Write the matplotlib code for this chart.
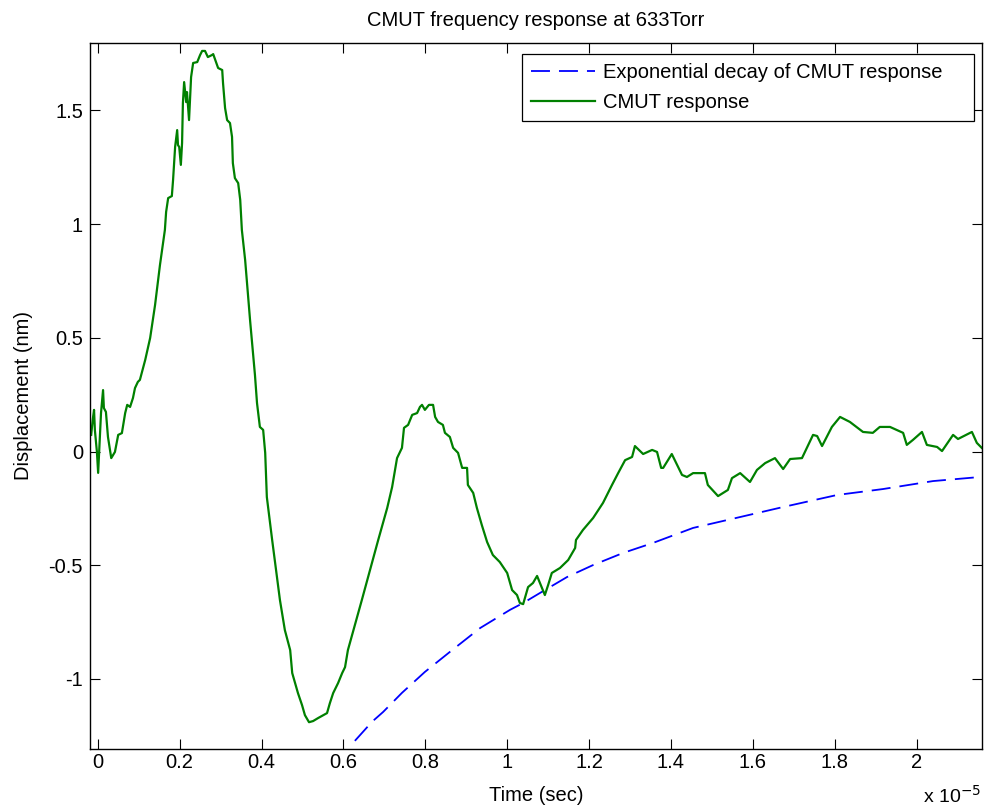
"""CMUT displacement response at 633 Torr with its exponential decay envelope."""

import matplotlib
matplotlib.use("Agg")
import matplotlib.pyplot as plt

# time axis is in units of 1e-5 s
resp_t = [
    -0.016, -0.012, -0.009, -0.007, -0.002, 0.001, 0.008, 0.013, 0.015, 0.020,
    0.025, 0.033, 0.042, 0.050, 0.059, 0.067, 0.072, 0.079, 0.086, 0.091,
    0.098, 0.103, 0.116, 0.128, 0.140, 0.152, 0.164, 0.167, 0.172, 0.181,
    0.184, 0.189, 0.194, 0.196, 0.199, 0.203, 0.206, 0.208, 0.211, 0.216,
    0.218, 0.223, 0.225, 0.228, 0.233, 0.243, 0.250, 0.255, 0.262, 0.269,
    0.279, 0.282, 0.287, 0.294, 0.304, 0.306, 0.311, 0.316, 0.323, 0.328,
    0.330, 0.335, 0.343, 0.348, 0.352, 0.360, 0.372, 0.384, 0.389, 0.396,
    0.404, 0.409, 0.413, 0.426, 0.445, 0.457, 0.470, 0.475, 0.482, 0.489,
    0.499, 0.506, 0.516, 0.526, 0.538, 0.560, 0.567, 0.575, 0.587, 0.597,
    0.604, 0.611, 0.628, 0.645, 0.665, 0.685, 0.707, 0.719, 0.726, 0.731,
    0.743, 0.748, 0.758, 0.768, 0.780, 0.787, 0.792, 0.799, 0.809, 0.819,
    0.824, 0.831, 0.843, 0.848, 0.860, 0.868, 0.880, 0.890, 0.902, 0.904,
    0.917, 0.926, 0.938, 0.951, 0.965, 0.982, 1.000, 1.012, 1.024, 1.031,
    1.039, 1.051, 1.063, 1.073, 1.080, 1.092, 1.100, 1.109, 1.129, 1.149,
    1.166, 1.168, 1.185, 1.210, 1.234, 1.256, 1.271, 1.288, 1.305, 1.312,
    1.332, 1.354, 1.366, 1.376, 1.381, 1.402, 1.427, 1.439, 1.454, 1.483,
    1.490, 1.515, 1.539, 1.549, 1.569, 1.593, 1.610, 1.630, 1.654, 1.674,
    1.691, 1.720, 1.747, 1.757, 1.769, 1.793, 1.813, 1.837, 1.869, 1.893,
    1.910, 1.935, 1.967, 1.976, 1.991, 2.013, 2.025, 2.050, 2.062, 2.089,
    2.101, 2.135, 2.147, 2.159,
]
resp_nm = [
    0.073, 0.143, 0.183, 0.095, -0.002, -0.094, 0.169, 0.270, 0.191, 0.174,
    0.064, -0.029, -0.002, 0.073, 0.081, 0.169, 0.205, 0.196, 0.235, 0.279,
    0.306, 0.315, 0.403, 0.499, 0.644, 0.820, 0.974, 1.053, 1.114, 1.123,
    1.194, 1.339, 1.413, 1.347, 1.339, 1.260, 1.357, 1.532, 1.624, 1.536,
    1.580, 1.457, 1.532, 1.646, 1.708, 1.712, 1.743, 1.761, 1.761, 1.734,
    1.743, 1.747, 1.721, 1.686, 1.677, 1.620, 1.510, 1.457, 1.444, 1.383,
    1.268, 1.202, 1.180, 1.106, 0.974, 0.842, 0.578, 0.336, 0.213, 0.108,
    0.095, -0.006, -0.200, -0.389, -0.653, -0.785, -0.873, -0.974, -1.018, -1.062,
    -1.115, -1.159, -1.190, -1.185, -1.172, -1.150, -1.106, -1.062, -1.018, -0.974,
    -0.948, -0.873, -0.763, -0.653, -0.521, -0.389, -0.248, -0.156, -0.081, -0.029,
    0.016, 0.104, 0.117, 0.161, 0.169, 0.196, 0.205, 0.183, 0.205, 0.205,
    0.152, 0.130, 0.117, 0.082, 0.064, 0.016, -0.006, -0.072, -0.072, -0.147,
    -0.182, -0.248, -0.323, -0.398, -0.455, -0.486, -0.534, -0.609, -0.631, -0.666,
    -0.671, -0.596, -0.578, -0.547, -0.578, -0.631, -0.587, -0.534, -0.512, -0.477,
    -0.424, -0.389, -0.345, -0.292, -0.226, -0.147, -0.095, -0.038, -0.024, 0.024,
    -0.011, 0.007, -0.002, -0.072, -0.072, -0.011, -0.103, -0.112, -0.095, -0.095,
    -0.147, -0.196, -0.169, -0.117, -0.095, -0.134, -0.081, -0.051, -0.029, -0.077,
    -0.033, -0.029, 0.073, 0.068, 0.024, 0.108, 0.152, 0.130, 0.086, 0.082,
    0.108, 0.108, 0.082, 0.029, 0.051, 0.086, 0.029, 0.020, 0.002, 0.073,
    0.055, 0.086, 0.038, 0.016,
]

decay_t = [0.628, 0.670, 0.697, 0.743, 0.799, 0.860, 0.934, 1.007, 1.039, 1.080,
           1.146, 1.210, 1.283, 1.356, 1.454, 1.569, 1.674, 1.806, 1.918, 2.040,
           2.155]
decay_nm = [-1.272, -1.188, -1.145, -1.061, -0.969, -0.881, -0.776, -0.696, -0.666,
            -0.622, -0.552, -0.499, -0.446, -0.402, -0.336, -0.288, -0.244, -0.191,
            -0.165, -0.130, -0.112]

x_ticks = [0, 0.2, 0.4, 0.6, 0.8, 1.0, 1.2, 1.4, 1.6, 1.8, 2.0]
x_tick_labels = ["0", "0.2", "0.4", "0.6", "0.8", "1", "1.2", "1.4", "1.6", "1.8", "2"]
y_ticks = [-1, -0.5, 0, 0.5, 1, 1.5]
y_tick_labels = ["-1", "-0.5", "0", "0.5", "1", "1.5"]

FS = 14.5

plt.rcParams["font.family"] = ["Liberation Sans", "DejaVu Sans"]
plt.rcParams["font.size"] = FS

fig = plt.figure(figsize=(9.84, 8.11), dpi=100)
ax = fig.add_axes([0.0915, 0.0764, 0.9062, 0.8709])

ax.plot(decay_t, decay_nm, color="#0000ff", linewidth=1.3, dashes=(10.5, 5),
        label="Exponential decay of CMUT response")
ax.plot(resp_t, resp_nm, color="#008000", linewidth=1.6, label="CMUT response")

ax.set_xlim(-0.0188, 2.159)
ax.set_ylim(-1.308, 1.797)
ax.set_xticks(x_ticks)
ax.set_xticklabels(x_tick_labels)
ax.set_yticks(y_ticks)
ax.set_yticklabels(y_tick_labels)
ax.tick_params(direction="in", length=7, width=0.8, top=True, right=True, labelsize=FS)
ax.tick_params(axis="x", pad=3)
ax.tick_params(axis="y", pad=5)
for spine in ax.spines.values():
    spine.set_linewidth(1.0)

ax.set_title("CMUT frequency response at 633Torr", fontsize=FS, pad=12)
ax.set_xlabel("Time (sec)", fontsize=FS, labelpad=10)
ax.set_ylabel("Displacement (nm)", fontsize=FS, labelpad=11)
# exponent of the time axis, placed below the right end like MATLAB does
ax.text(0.999, -0.0755, r"x 10$^{-5}$", transform=ax.transAxes, ha="right", va="baseline",
        fontsize=FS - 0.5)

# MATLAB-style legend box: fixed width, entries left aligned
leg = ax.legend(loc="upper left", bbox_to_anchor=(0.484, 0.5, 0.507, 0.484), mode="expand",
                fancybox=False, framealpha=1, edgecolor="black",
                handlelength=3.2, handletextpad=0.4, borderpad=0.45, labelspacing=0.55,
                borderaxespad=0, fontsize=FS)
leg.get_frame().set_linewidth(0.9)

fig.savefig("out.png", dpi=100)
